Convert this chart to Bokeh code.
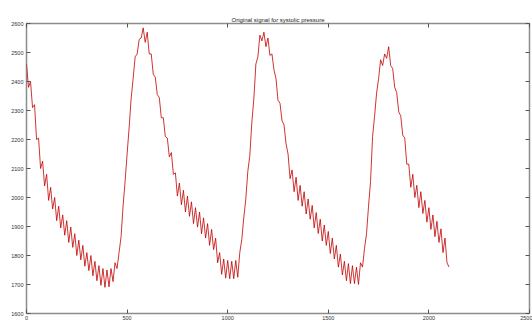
import numpy as np
from bokeh.plotting import figure
from bokeh.models import Range1d, LinearAxis, FixedTicker
from bokeh.embed import file_html
from bokeh.resources import INLINE

title_text = "Original signal for systolic pressure"
x_ticks = [0, 500, 1000, 1500, 2000, 2500]
y_ticks = [1600, 1700, 1800, 1900, 2000, 2100, 2200, 2300, 2400, 2500, 2600]

# sample index (every 10th sample)
samples = list(range(0, 2110, 10))
# systolic pressure values
pressure = [
    2460, 2380, 2400, 2310, 2320, 2200, 2205, 2100, 2125, 2040,
    2080, 1990, 2035, 1960, 2000, 1920, 1970, 1895, 1940, 1870,
    1920, 1845, 1898, 1828, 1875, 1800, 1853, 1785, 1835, 1763,
    1810, 1748, 1800, 1730, 1780, 1713, 1765, 1697, 1755, 1690,
    1750, 1692, 1755, 1710, 1775, 1755, 1810, 1865, 1970, 2055,
    2150, 2240, 2340, 2410, 2485, 2495, 2545, 2550, 2585, 2535,
    2570, 2495, 2495, 2425, 2415, 2355, 2345, 2275, 2275, 2210,
    2205, 2140, 2155, 2080, 2085, 2005, 2050, 1975, 2025, 1950,
    2005, 1935, 1985, 1910, 1965, 1898, 1950, 1875, 1930, 1860,
    1910, 1835, 1890, 1820, 1860, 1775, 1810, 1735, 1788, 1722,
    1783, 1720, 1780, 1720, 1783, 1725, 1810, 1855, 1930, 1995,
    2090, 2145, 2260, 2340, 2460, 2485, 2560, 2540, 2570, 2520,
    2550, 2490, 2495, 2440, 2410, 2335, 2325, 2265, 2250, 2185,
    2150, 2065, 2095, 2020, 2070, 1990, 2042, 1970, 2020, 1943,
    1995, 1925, 1973, 1895, 1948, 1876, 1925, 1850, 1905, 1835,
    1883, 1807, 1860, 1788, 1835, 1760, 1805, 1733, 1780, 1713,
    1772, 1703, 1765, 1703, 1760, 1700, 1775, 1760, 1825, 1875,
    1970, 2055, 2210, 2280, 2360, 2410, 2475, 2455, 2495, 2480,
    2520, 2455, 2445, 2380, 2362, 2295, 2282, 2215, 2205, 2115,
    2115, 2035, 2080, 2000, 2042, 1965, 2020, 1945, 1990, 1915,
    1965, 1890, 1940, 1865, 1918, 1845, 1892, 1810, 1860, 1775,
    1760,
]

FONT = "Liberation Sans"

p = figure(width=532, height=322, output_backend="svg", toolbar_location=None,
           x_range=Range1d(0, 2500), y_range=Range1d(1600, 2600),
           min_border_left=26, min_border_right=3, min_border_top=23,
           min_border_bottom=8, x_axis_location="below", y_axis_location="left")

p.title.text = title_text
p.title.align = "center"
p.title.text_font = FONT
p.title.text_font_size = "6px"
p.title.text_font_style = "normal"
p.title.text_color = "#222222"
p.title.standoff = 2

p.background_fill_color = "white"
p.border_fill_color = "white"
p.outline_line_color = "#8c8c8c"
p.outline_line_width = 1.5
p.xgrid.visible = False
p.ygrid.visible = False

p.line(samples, pressure, line_color="#c00000", line_width=0.8)

def style_axis(ax, ticks, show_labels=True):
    ax.ticker = FixedTicker(ticks=ticks)
    ax.axis_line_color = None
    ax.major_tick_in = 4
    ax.major_tick_out = 0
    ax.minor_tick_in = 0
    ax.minor_tick_out = 0
    ax.major_tick_line_color = "#555555"
    ax.major_label_text_font = FONT
    ax.major_label_standoff = 3
    if show_labels:
        ax.major_label_text_font_size = "5.5px"
        ax.major_label_text_color = "#333333"
    else:
        ax.major_label_text_font_size = "1px"
        ax.major_label_text_alpha = 0
        ax.major_label_standoff = 0

style_axis(p.xaxis[0], x_ticks)
style_axis(p.yaxis[0], y_ticks)
p.xaxis[0].major_label_standoff = 2

top_ax = LinearAxis()
style_axis(top_ax, x_ticks, show_labels=False)
p.add_layout(top_ax, "above")
right_ax = LinearAxis()
style_axis(right_ax, y_ticks, show_labels=False)
p.add_layout(right_ax, "right")

open("out.html", "w").write(file_html(p, INLINE))
